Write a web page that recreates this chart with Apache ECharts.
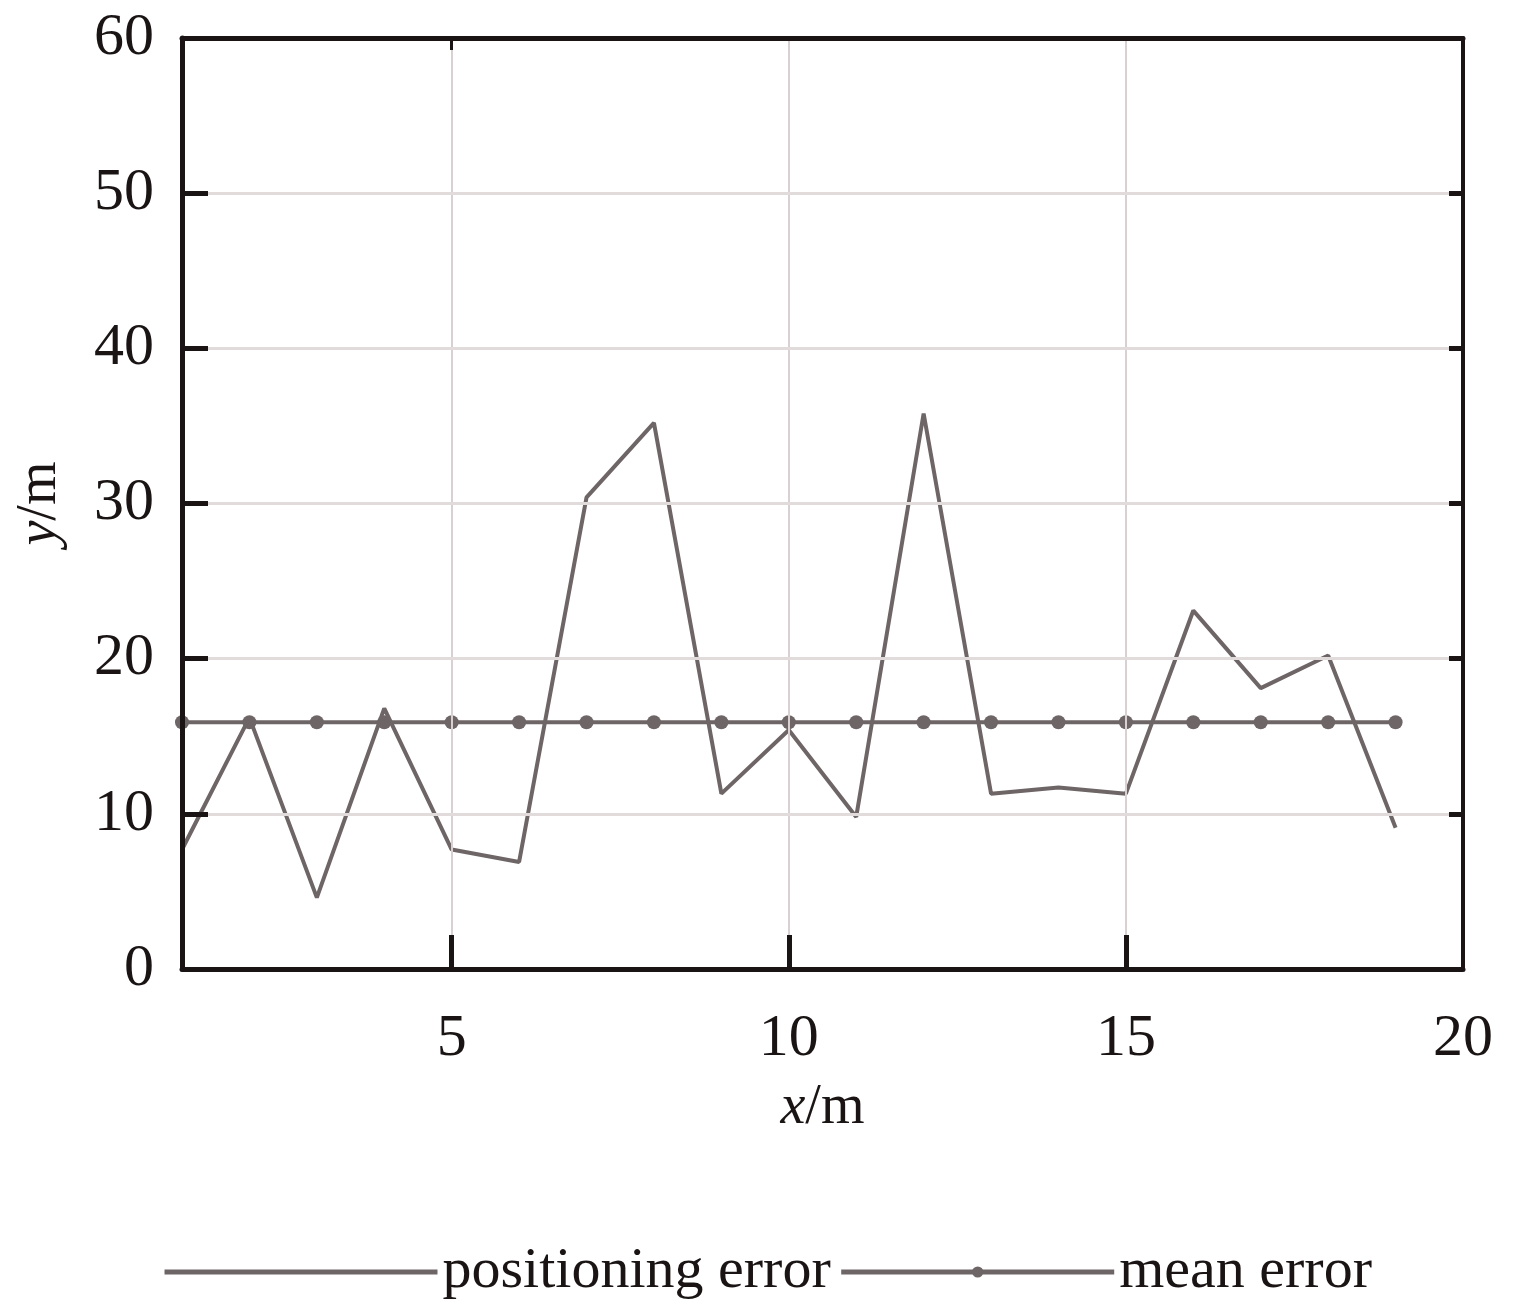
<!DOCTYPE html>
<html><head><meta charset="utf-8">
<script src="https://cdn.jsdelivr.net/npm/echarts@6/dist/echarts.min.js"></script>
<style>html,body{margin:0;padding:0;background:#fff}#c{width:1518px;height:1316px}</style>
</head><body><div id="c"></div>
<script>
const xValues = [1,2,3,4,5,6,7,8,9,10,11,12,13,14,15,16,17,18,19];
const positioningError = [7.7,16.2,4.6,16.8,7.7,6.9,30.4,35.2,11.3,15.4,9.8,35.8,11.3,11.7,11.3,23.1,18.1,20.2,9.1];
const meanError = [15.9,15.9,15.9,15.9,15.9,15.9,15.9,15.9,15.9,15.9,15.9,15.9,15.9,15.9,15.9,15.9,15.9,15.9,15.9];
const xTickLabels = [5,10,15,20];
const xGridValues = [5,10,15];
const yTicks = [0,10,20,30,40,50,60];

const lineColor = '#6e6566';
const ink = '#1a1414';
const font = '"Liberation Serif","Times New Roman",serif';
const chart = echarts.init(document.getElementById('c'));
chart.setOption({
  animation:false,
  backgroundColor:'#fff',
  grid:{left:182,right:55,top:38,bottom:347,containLabel:false,outerBoundsMode:'none'},
  legend:{
    left:157, top:1238, itemWidth:273, itemHeight:14, itemGap:8,
    lineStyle:{width:5},
    textStyle:{fontFamily:font,fontSize:58,color:ink},
    data:[{name:'positioning error',itemStyle:{opacity:0}},{name:'mean error'}]
  },
  xAxis:[{
    type:'value', min:1, max:20, z:10,
    name:'{i|x}/m', nameLocation:'middle', nameGap:111, nameMoveOverlap:false,
    nameTextStyle:{fontFamily:font,fontSize:56,color:ink,rich:{i:{fontStyle:'italic',fontFamily:font,fontSize:56,color:ink}}},
    axisLine:{show:true,lineStyle:{color:ink,width:5}},
    axisTick:{show:true,inside:true,length:34,lineStyle:{color:ink,width:5},customValues:xGridValues},
    axisLabel:{customValues:xTickLabels,margin:40,fontFamily:font,fontSize:60,color:ink},
    splitLine:{show:false}
  },{
    type:'value', min:1, max:20, position:'top', z:10,
    axisLine:{show:true,onZero:false,lineStyle:{color:ink,width:5}},
    axisTick:{show:true,inside:true,length:12,lineStyle:{color:ink,width:3},customValues:[5]},
    axisLabel:{show:false}, splitLine:{show:false}
  }],
  yAxis:[{
    type:'value', min:0, max:60, interval:10, z:10,
    name:'{i|y}/m', nameLocation:'middle', nameGap:114, nameRotate:90, nameMoveOverlap:false,
    nameTextStyle:{fontFamily:font,fontSize:56,color:ink,rich:{i:{fontStyle:'italic',fontFamily:font,fontSize:56,color:ink}}},
    axisLine:{show:true,lineStyle:{color:ink,width:5}},
    axisTick:{show:true,inside:true,length:26,lineStyle:{color:ink,width:5}},
    axisLabel:{margin:28,fontFamily:font,fontSize:60,color:ink},
    splitLine:{show:true,lineStyle:{color:'#e2dbdb',width:3}}
  },{
    type:'value', min:0, max:60, interval:10, position:'right', z:10,
    axisLine:{show:true,onZero:false,lineStyle:{color:ink,width:4}},
    axisTick:{show:true,inside:true,length:14,lineStyle:{color:ink,width:5}},
    axisLabel:{show:false}, splitLine:{show:false}
  }],
  series:[{
    name:'positioning error', type:'line',
    data:xValues.map((x,i)=>[x,positioningError[i]]),
    symbol:'none', lineStyle:{color:lineColor,width:4}, itemStyle:{color:lineColor},
    markLine:{
      silent:true, symbol:'none', label:{show:false},
      lineStyle:{color:'#d9d1d1',width:2,type:'solid'},
      data:xGridValues.map(v=>({xAxis:v}))
    },
    z:3
  },{
    name:'mean error', type:'line',
    data:xValues.map((x,i)=>[x,meanError[i]]),
    symbol:'circle', symbolSize:14, showSymbol:true,
    lineStyle:{color:lineColor,width:4}, itemStyle:{color:lineColor},
    z:2
  }]
});
</script></body></html>
